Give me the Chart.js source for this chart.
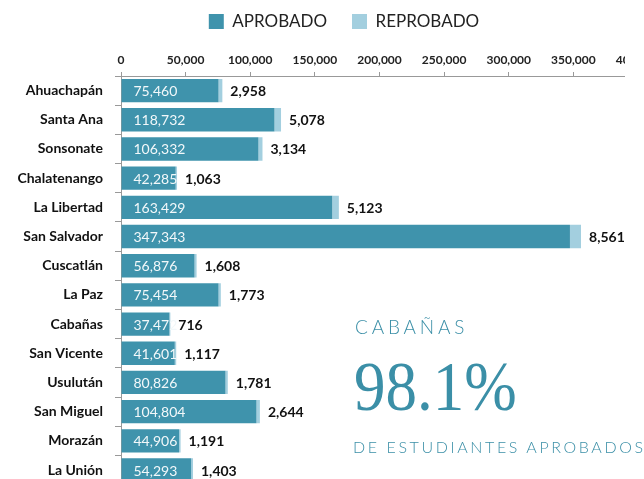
<!DOCTYPE html>
<html>
<head>
<meta charset="utf-8">
<script src="https://cdn.jsdelivr.net/npm/chart.js@4.4.0/dist/chart.umd.min.js"></script>
<style>
  html, body { margin: 0; padding: 0; background: #fff; overflow: hidden; width: 644px; height: 479px; }
  #wrap { position: absolute; left: 0; top: 0; width: 625px; height: 479px; overflow: hidden; }
  .note { position: absolute; color: #3b8fa7; white-space: nowrap; }
  #dep { left: 355px; top: 315px; font: 300 19px Lato, sans-serif; letter-spacing: 3.8px; }
  #pct { left: 354px; top: 347px; font: 70px "Liberation Serif", serif; transform: scaleX(0.9); transform-origin: left top; }
  #sub { left: 353px; top: 437px; font: 300 16px Lato, sans-serif; letter-spacing: 2.6px; }
</style>
</head>
<body>
<div id="wrap"><canvas id="myChart" width="688" height="505"></canvas></div>
<div class="note" id="dep">CABAÑAS</div>
<div class="note" id="pct">98.1%</div>
<div class="note" id="sub">DE ESTUDIANTES APROBADOS</div>
<script>
// departamentos y estudiantes
const departamentos = ['Ahuachapán', 'Santa Ana', 'Sonsonate', 'Chalatenango', 'La Libertad', 'San Salvador',
    'Cuscatlán', 'La Paz', 'Cabañas', 'San Vicente', 'Usulután', 'San Miguel', 'Morazán', 'La Unión']
const aprobados = [75460, 118732, 106332, 42285, 163429, 347343, 56876, 75454, 37472, 41601, 80826, 104804, 44906, 54293]
const reprobados = [2958, 5078, 3134, 1063, 5123, 8561, 1608, 1773, 716, 1117, 1781, 2644, 1191, 1403]
const xTicks = [0, 50000, 100000, 150000, 200000, 250000, 300000, 350000, 400000]

const fmt = v => v.toLocaleString('en-US')

// dibuja los numeros sobre las barras
const barLabels = {
    id: 'barLabels',
    afterDatasetsDraw(chart) {
        const ctx = chart.ctx
        ctx.save()
        ctx.textBaseline = 'middle'
        ctx.textAlign = 'left'
        chart.getDatasetMeta(0).data.forEach((bar, i) => {
            ctx.font = '14px Lato, sans-serif'
            ctx.fillStyle = '#f2f8fa'
            ctx.fillText(fmt(aprobados[i]), bar.base + 12, bar.y + 1)
        })
        chart.getDatasetMeta(1).data.forEach((bar, i) => {
            ctx.font = 'bold 14px Lato, sans-serif'
            ctx.fillStyle = '#111'
            ctx.fillText(fmt(reprobados[i]), bar.x + 8, bar.y + 1)
        })
        ctx.restore()
    }
}

// la leyenda va un poco a la derecha
const moveLegend = {
    id: 'moveLegend',
    afterLayout(chart) {
        chart.legend.left += 25
        chart.legend.right += 25
    }
}

const ctx = document.getElementById('myChart').getContext('2d')
const chart = new Chart(ctx, {
    type: 'bar',
    data: {
        labels: departamentos,
        datasets: [
            {label: 'APROBADO', data: aprobados, backgroundColor: '#3f93ac'},
            {label: 'REPROBADO', data: reprobados, backgroundColor: '#a3cfdf'}
        ]
    },
    options: {
        indexAxis: 'y',
        responsive: false,
        animation: false,
        barPercentage: 0.8,
        categoryPercentage: 1,
        layout: {padding: {top: -12, right: 50, bottom: 9, left: 0}},
        plugins: {
            tooltip: {enabled: false},
            legend: {
                position: 'top',
                labels: {
                    color: '#222',
                    font: {family: 'Lato', size: 17},
                    boxWidth: 15,
                    boxHeight: 15,
                    padding: 25
                }
            }
        },
        scales: {
            x: {
                position: 'top',
                stacked: true,
                min: 0,
                max: 400000,
                afterBuildTicks: s => { s.ticks = xTicks.map(v => ({value: v})) },
                afterFit: s => { s.height = 36 },
                grid: {drawOnChartArea: false, tickLength: 4, color: '#999'},
                border: {color: '#999'},
                ticks: {
                    color: '#222',
                    font: {family: 'Lato', size: 12, weight: 'bold'},
                    padding: 5,
                    maxRotation: 0,
                    callback: v => fmt(v)
                }
            },
            y: {
                stacked: true,
                afterFit: s => { s.width = 121 },
                grid: {drawOnChartArea: false, tickLength: 6, color: '#999'},
                border: {color: '#999'},
                ticks: {
                    color: '#111',
                    font: {family: 'Lato', size: 14, weight: 'bold'},
                    padding: 12
                }
            }
        }
    },
    plugins: [barLabels, moveLegend]
})
</script>
</body>
</html>
